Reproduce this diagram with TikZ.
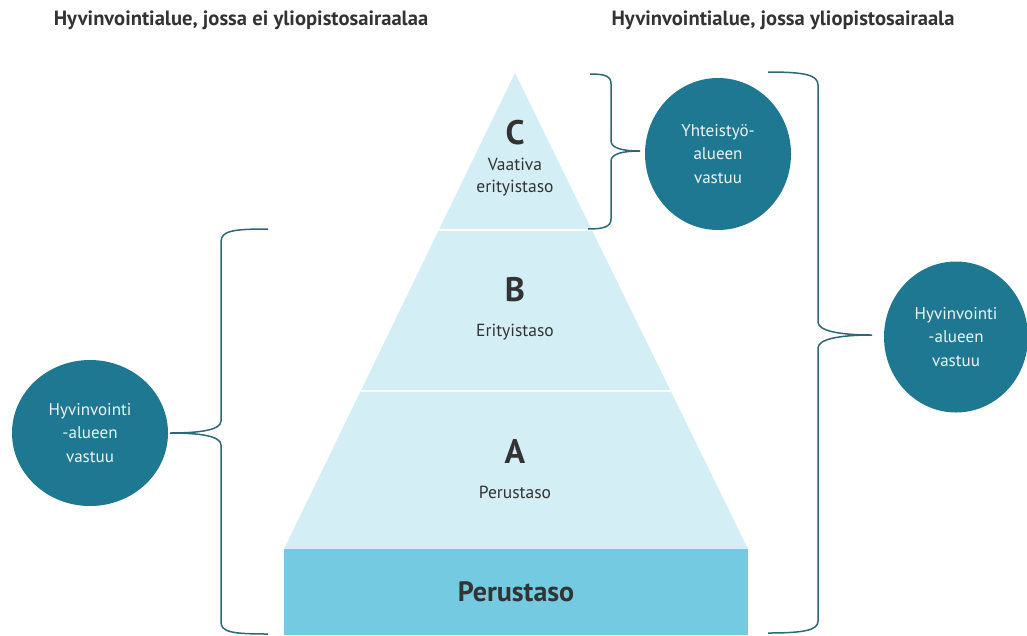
\documentclass[tikz,border=0pt]{standalone}
\usepackage{fontspec}
\setmainfont{PT Sans}
\usetikzlibrary{shapes.geometric}
\definecolor{blobteal}{HTML}{1F7891}
\definecolor{pyrlight}{HTML}{D3EEF4}
\definecolor{pyrbase}{HTML}{74CAE1}
\definecolor{bracecol}{HTML}{2E6778}
\definecolor{txtdark}{HTML}{333333}
\begin{document}
\begin{tikzpicture}[x=1pt, y=-1pt,
    brace/.style={draw=bracecol, line width=1.5pt},
    blob/.style={ellipse, fill=blobteal, text=white!92!blobteal, align=center, inner sep=0pt,
        font=\fontsize{17}{23.5}\selectfont},
    lvl/.style={text=txtdark, font=\fontsize{34}{34}\selectfont\bfseries},
    lvlname/.style={text=txtdark, align=center, font=\fontsize{17.5}{22}\selectfont},
    title/.style={text=txtdark, font=\fontsize{20.6}{22}\selectfont\bfseries}]
    \useasboundingbox (0,0) rectangle (1027,635);
    % titles
    \node[title] (ltitle) at (241,20) {Hyvinvointialue, jossa ei yliopistosairaalaa};
    \node[title] (rtitle) at (783,20) {Hyvinvointialue, jossa yliopistosairaala};
    % pyramid
    \fill[pyrlight] (515,73) -- (748,549) -- (284,549) -- cycle;
    \draw[white, line width=1.5pt] (439,230) -- (592,230);
    \draw[white, line width=1.5pt] (361,391) -- (671,391);
    \node[fill=pyrbase, minimum width=464, minimum height=86, text=txtdark,
        font=\fontsize{28}{28}\selectfont\bfseries] (base) at (516,592) {Perustaso};
    \node[lvl] (lvlC) at (515,133) {C};
    \node[lvlname] (nameC) at (515,177) {Vaativa\\erityistaso};
    \node[lvl] (lvlB) at (515,290) {B};
    \node[lvlname] (nameB) at (515,332) {Erityistaso};
    \node[lvl] (lvlA) at (515,452) {A};
    \node[lvlname] (nameA) at (515,492) {Perustaso};
    % responsibility circles
    \node[blob, minimum width=156, minimum height=146] (lblob) at (90,433) {Hyvinvointi\\-alueen\\vastuu};
    \node[blob, minimum width=146, minimum height=152] (cblob) at (718,154) {Yhteistyö-\\alueen\\vastuu};
    \node[blob, minimum width=144, minimum height=151] (rblob) at (956,337) {Hyvinvointi\\-alueen\\vastuu};
    % braces
    \coordinate (ltip) at (170,433);
    \coordinate (ctip) at (640,151);
    \coordinate (rtip) at (872,335);
    \draw[brace] (268,229) .. controls (232,229) and (221,231) .. (221,242) -- (221,421)
        .. controls (221,430) and (200,433) .. (ltip)
        .. controls (200,433) and (221,436) .. (221,445) -- (221,622)
        .. controls (221,632) and (232,634) .. (268,634);
    \draw[brace] (590,74) .. controls (605,74) and (611,76) .. (611,84) -- (611,141)
        .. controls (611,148) and (622,151) .. (ctip)
        .. controls (622,151) and (611,154) .. (611,161) -- (611,219)
        .. controls (611,227) and (603,229) .. (588,229);
    \draw[brace] (768,72) .. controls (805,72) and (818,75) .. (818,85) -- (818,322)
        .. controls (818,331) and (840,335) .. (rtip)
        .. controls (840,335) and (818,339) .. (818,348) -- (818,621)
        .. controls (818,630) and (805,633) .. (768,633);
\end{tikzpicture}
\end{document}
